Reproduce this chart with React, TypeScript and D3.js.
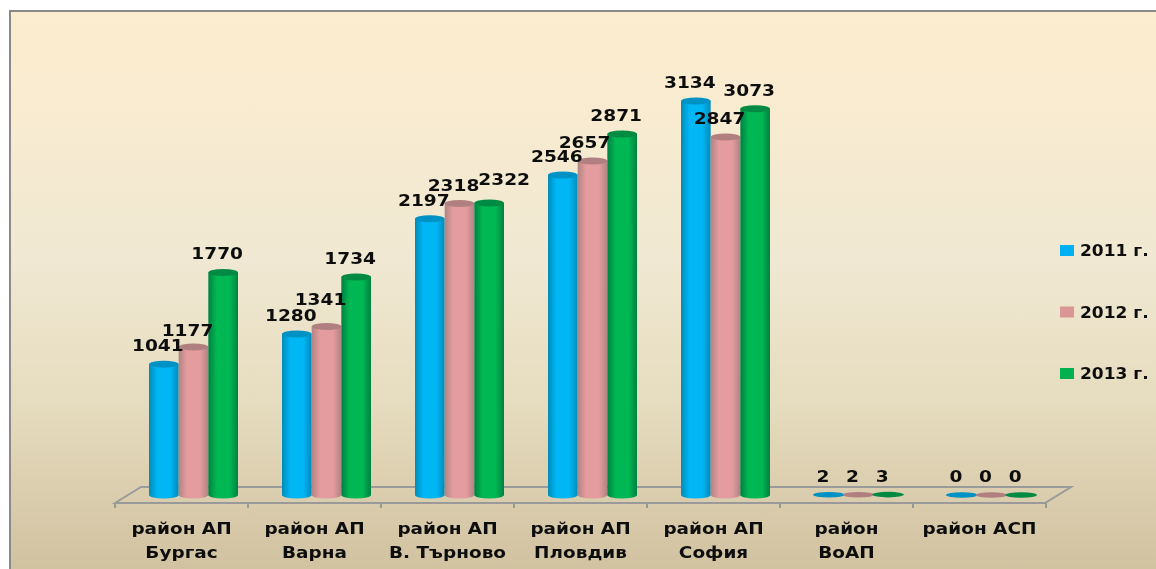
import React from "react";
import * as d3 from "d3";

const categories = [["район АП", "Бургас"], ["район АП", "Варна"], ["район АП", "В. Търново"], ["район АП", "Пловдив"], ["район АП", "София"], ["район", "ВоАП"], ["район АСП"]];
const seriesNames = ["2011 г.", "2012 г.", "2013 г."];
const values2011 = [1041, 1280, 2197, 2546, 3134, 2, 0];
const values2012 = [1177, 1341, 2318, 2657, 2847, 2, 0];
const values2013 = [1770, 1734, 2322, 2871, 3073, 3, 0];
const seriesValues = [values2011, values2012, values2013];
const colors = [
  { id: "c0", dark: "#008bb8", mid: "#00b6f4", top: "#0092c4", flat: "#00b0f0" },
  { id: "c1", dark: "#b08484", mid: "#e59c9e", top: "#b17f7f", flat: "#d99694" },
  { id: "c2", dark: "#008040", mid: "#00b853", top: "#008a42", flat: "#00b050" },
];

const W = 1156, H = 569;
const font = "'DejaVu Sans', Verdana, sans-serif";

// hand-moved data labels, as in the original: "category-series" -> [dx, dy]
const labelNudges: Record<string, [number, number]> = {
  "2-2": [21, -5],
  "1-1": [0, -8],
  "0-1": [0, 2],
  "3-1": [-2, 0],
};

function Stretched({ x, y, sx, size, anchor, children }: any) {
  return (
    <g transform={`translate(${x},${y}) scale(${sx},1)`}>
      <text textAnchor={anchor} fontFamily={font} fontWeight="bold" fontSize={size} fill="#111">
        {children}
      </text>
    </g>
  );
}

export default function App() {
  const x = d3.scaleBand<number>().domain(d3.range(categories.length)).range([115, 1046]);
  const inner = d3.scaleBand<number>().domain([0, 1, 2]).range([34, 123]);
  const y = d3.scaleLinear().domain([0, 3134]).range([495, 101]);
  const floorY = 503, backY = 487, skew = 26;
  const rx = inner.bandwidth() / 2;
  const legendY = d3.scalePoint<number>().domain([0, 1, 2]).range([250, 373]);
  const order = [0, 1, 2];
  return (
    <svg width={W} height={H} style={{ position: "fixed", left: 0, top: 0, display: "block", background: "#fff" }}>
      <defs>
        <linearGradient id="bg" x1="0" y1="0" x2="0" y2="1">
          <stop offset="0" stopColor="#fdedcf" />
          <stop offset="0.45" stopColor="#f0e8d2" />
          <stop offset="0.7" stopColor="#e6dcbf" />
          <stop offset="1" stopColor="#d1c2a0" />
        </linearGradient>
        {colors.map((c) => (
          <linearGradient key={c.id} id={c.id} x1="0" y1="0" x2="1" y2="0">
            <stop offset="0" stopColor={c.dark} />
            <stop offset="0.28" stopColor={c.mid} />
            <stop offset="0.72" stopColor={c.mid} />
            <stop offset="1" stopColor={c.dark} />
          </linearGradient>
        ))}
        <filter id="soft" x="-5%" y="-5%" width="110%" height="110%">
          <feGaussianBlur stdDeviation="0.55" />
        </filter>
      </defs>
      <rect x={9} y={10} width={W - 9} height={H - 10} fill="url(#bg)" />
      <path d={`M10 ${H}V11H${W}`} fill="none" stroke="#8c8a88" strokeWidth={2} />
      <g filter="url(#soft)">
        <path
          d={`M${x.range()[0]} ${floorY}L${x.range()[0] + skew} ${backY}H${x.range()[1] + skew - 1}L${x.range()[1] - 1} ${floorY}Z`}
          fill="none" stroke="#9a9a9a" strokeWidth={2}
        />
        {d3.range(categories.length + 1).map((i) => {
          const tx = x.range()[0] + i * x.step();
          return <line key={i} x1={tx} x2={tx} y1={floorY} y2={floorY + 5} stroke="#9a9a9a" strokeWidth={2} />;
        })}
        {categories.map((_, ci) =>
          order.map((si) => {
            const v = seriesValues[si][ci];
            const c = colors[si];
            const left = x(ci)! + inner(si)!;
            const cx = left + rx;
            const top = y(v);
            const base = y(0);
            if (v < 10) {
              return <ellipse key={`${ci}-${si}`} cx={cx} cy={top} rx={rx + 1} ry={2.8} fill={c.top} />;
            }
            return (
              <g key={`${ci}-${si}`}>
                <path
                  d={`M${left} ${top}V${base}A${rx} 3.5 0 0 0 ${left + 2 * rx} ${base}V${top}Z`}
                  fill={`url(#${c.id})`}
                />
                <ellipse cx={cx} cy={top} rx={rx} ry={3.5} fill={c.top} />
              </g>
            );
          })
        )}
        {categories.map((_, ci) =>
          order.map((si) => {
            const [dx, dy] = labelNudges[`${ci}-${si}`] ?? [0, 0];
            return (
              <Stretched
                key={`l${ci}-${si}`}
                x={x(ci)! + inner(si)! + rx - 6 + dx}
                y={y(seriesValues[si][ci]) - 13 + dy}
                sx={1.16}
                size={16}
                anchor="middle"
              >
                {seriesValues[si][ci]}
              </Stretched>
            );
          })
        )}
        {categories.map((lines, ci) =>
          lines.map((ln, li) => (
            <Stretched
              key={`c${ci}-${li}`}
              x={x(ci)! + x.bandwidth() / 2}
              y={533.5 + li * 24}
              sx={1.12}
              size={16.5}
              anchor="middle"
            >
              {ln}
            </Stretched>
          ))
        )}
        {seriesNames.map((name, si) => (
          <g key={name}>
            <rect x={1060} y={legendY(si)! - 5} width={14} height={11} fill={colors[si].flat} />
            <Stretched x={1080} y={legendY(si)! + 6} sx={1.1} size={15.5} anchor="start">
              {name}
            </Stretched>
          </g>
        ))}
      </g>
    </svg>
  );
}
